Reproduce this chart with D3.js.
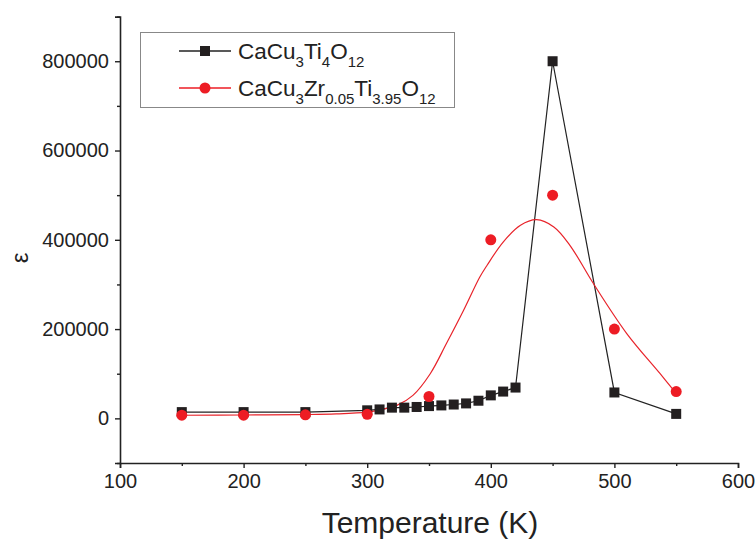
<!DOCTYPE html>
<html><head><meta charset="utf-8">
<script src="https://cdn.jsdelivr.net/npm/d3@7"></script>
<style>body{margin:0;background:#fff}svg{display:block}text{font-family:"Liberation Sans",Arial,sans-serif;fill:#222}</style>
</head><body>
<svg id="c" width="755" height="541"></svg>
<script>
// Data
const tempA = [150,200,250,300,310,320,330,340,350,360,370,380,390,400,410,420,450,500,550];
const epsA  = [14000,14000,14000,18000,20000,24000,24000,25500,27500,29000,31000,33500,39500,51500,60000,69000,800000,58000,10000];
const tempB = [150,200,250,300,350,400,450,500,550];
const epsB  = [7000,7000,8000,9000,49000,400000,500000,200000,60000];
// fitted curve for series B
const fitT = [150,200,250,275,300,310,324,337,351,364,378,391,397,410,424,437,451,464,483,510,537,550];
const fitE = [7000,7500,8500,10000,14000,19000,29000,51500,100000,167000,242000,316000,343000,395000,432500,445000,428700,387700,302000,190000,100000,56000];
const xMajor = [100,200,300,400,500,600];
const xMinor = [150,250,350,450,550];
const yMajor = [0,200000,400000,600000,800000];
const yMinor = [-100000,100000,300000,500000,700000,900000];

const svg = d3.select("#c");
const x = d3.scaleLinear().domain([100,600]).range([120,738]);
const y = d3.scaleLinear().domain([-100000,900000]).range([463,16.6]);

// axes
const gx = svg.append("g").attr("transform","translate(0,"+y(-100000)+")");
gx.call(d3.axisBottom(x).tickValues(xMajor).tickSize(5).tickPadding(6).tickFormat(d3.format("d")));
const gxm = gx.append("g").call(d3.axisBottom(x).tickValues(xMinor).tickSize(3).tickFormat(""));
const gy = svg.append("g").attr("transform","translate("+x(100)+",0)");
gy.call(d3.axisLeft(y).tickValues(yMajor).tickSize(5).tickPadding(6).tickFormat(d3.format("d")));
const gym = gy.append("g").call(d3.axisLeft(y).tickValues(yMinor).tickSize(3).tickFormat(""));
gxm.select(".domain").remove();
gym.select(".domain").remove();
svg.selectAll(".domain").attr("stroke","#222").attr("stroke-width",1.6);
svg.selectAll(".tick line").attr("stroke","#222").attr("stroke-width",1.4);
svg.selectAll(".tick text").style("font-size","20px").attr("fill","#222");

// axis titles
svg.append("text").attr("x",430).attr("y",533).attr("text-anchor","middle").style("font-size","30px").text("Temperature (K)");
svg.append("text").attr("transform","translate(28,258) rotate(-90)").attr("text-anchor","middle").style("font-size","24px").text("ε");

const line = d3.line().x(d=>x(d[0])).y(d=>y(d[1]));
const dataA = tempA.map((t,i)=>[t,epsA[i]]);
const dataB = tempB.map((t,i)=>[t,epsB[i]]);
const fit = fitT.map((t,i)=>[t,fitE[i]]);
svg.append("path").datum(dataA).attr("d",line).attr("fill","none").attr("stroke","#222").attr("stroke-width",1.2);
svg.append("path").datum(fit).attr("d",d3.line().x(d=>x(d[0])).y(d=>y(d[1])).curve(d3.curveCatmullRom.alpha(0.5))).attr("fill","none").attr("stroke","#e8232a").attr("stroke-width",1.2);
svg.selectAll(".sq").data(dataA).enter().append("rect").attr("x",d=>x(d[0])-5).attr("y",d=>y(d[1])-5).attr("width",10).attr("height",10).attr("fill","#231f20");
svg.selectAll(".ci").data(dataB).enter().append("circle").attr("cx",d=>x(d[0])).attr("cy",d=>y(d[1])).attr("r",5.5).attr("fill","#ed1c24");

// legend
const lg = svg.append("g");
lg.append("rect").attr("x",140.5).attr("y",32.5).attr("width",314).attr("height",75).attr("fill","#fff").attr("stroke","#888").attr("stroke-width",1);
const rows = [
  {y:51, color:"#222", parts:[["CaCu",0],["3",1],["Ti",0],["4",1],["O",0],["12",1]]},
  {y:88, color:"#ed1c24", parts:[["CaCu",0],["3",1],["Zr",0],["0.05",1],["Ti",0],["3.95",1],["O",0],["12",1]]}
];
rows.forEach((r,k)=>{
  lg.append("line").attr("x1",179).attr("x2",231).attr("y1",r.y).attr("y2",r.y).attr("stroke",r.color).attr("stroke-width",1.4);
  if(k===0) lg.append("rect").attr("x",200).attr("y",r.y-5).attr("width",10).attr("height",10).attr("fill","#231f20");
  else lg.append("circle").attr("cx",205).attr("cy",r.y).attr("r",5.5).attr("fill","#ed1c24");
  const t = lg.append("text").attr("x",238).attr("y",r.y+8).style("font-size","22.5px");
  let prevSub = 0;
  r.parts.forEach(p=>{
    const sp = t.append("tspan").text(p[0]);
    if(p[1]){ sp.style("font-size","15px"); if(!prevSub) sp.attr("dy",8); }
    else if(prevSub) sp.attr("dy",-8);
    prevSub = p[1];
  });
});
</script>
</body></html>
